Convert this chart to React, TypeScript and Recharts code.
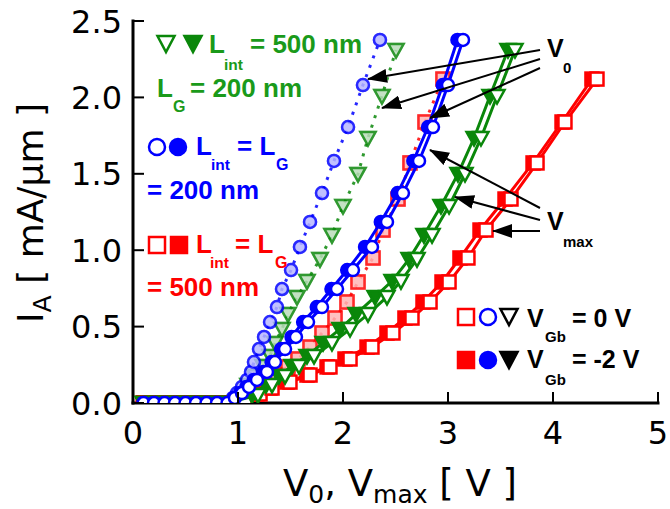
import React from "react";
import { ScatterChart, Scatter, XAxis, YAxis } from "recharts";

// off-state points along the baseline (shared by all curves)
const baseV = [0.1, 0.2, 0.3, 0.4, 0.5, 0.6, 0.7, 0.8, 0.9];
const baseI = [0, 0, 0, 0, 0, 0, 0, 0, 0];

// Lint = LG = 200 nm (blue)
const blueI = [2.376, 2.081, 1.806, 1.584, 1.374, 1.185, 1.021, 0.87, 0.746, 0.628, 0.53, 0.432, 0.353, 0.268, 0.203, 0.151, 0.105, 0.065, 0.033];
const blueV0 = [2.352, 2.19, 2.048, 1.914, 1.8, 1.686, 1.59, 1.505, 1.419, 1.371, 1.305, 1.248, 1.2, 1.152, 1.124, 1.086, 1.038, 0.99, 0.952];
const blueVmaxOpen = [3.143, 3.0, 2.857, 2.724, 2.571, 2.419, 2.276, 2.095, 1.943, 1.8, 1.667, 1.552, 1.448, 1.352, 1.276, 1.181, 1.105, 1.038, 0.971];
const blueVmaxFilled = [3.09, 2.95, 2.81, 2.67, 2.52, 2.36, 2.21, 2.04, 1.89, 1.75, 1.62, 1.51, 1.41, 1.32, 1.24, 1.15, 1.08, 1.02, 0.96];

// Lint = 500 nm, LG = 200 nm (green)
const greenI = [2.31, 2.009, 1.734, 1.499, 1.289, 1.099, 0.942, 0.798, 0.694, 0.582, 0.484, 0.393, 0.308, 0.242, 0.177, 0.118, 0.052];
const greenV0 = [2.505, 2.371, 2.238, 2.143, 2.0, 1.895, 1.781, 1.657, 1.562, 1.476, 1.419, 1.352, 1.305, 1.238, 1.162, 1.095, 1.048];
const greenVmaxOpen = [3.638, 3.467, 3.314, 3.162, 3.01, 2.848, 2.705, 2.552, 2.419, 2.238, 2.067, 1.895, 1.724, 1.581, 1.448, 1.324, 1.19];
const greenVmaxFilled = [3.571, 3.4, 3.248, 3.095, 2.933, 2.771, 2.629, 2.467, 2.305, 2.124, 1.971, 1.81, 1.657, 1.514, 1.39, 1.267, 1.133];

// Lint = LG = 500 nm (red)
const redI = [2.12, 1.839, 1.571, 1.335, 1.132, 0.949, 0.792, 0.661, 0.556, 0.458, 0.366, 0.288, 0.236, 0.183, 0.137, 0.098, 0.059, 0.026];
const redV0 = [2.952, 2.781, 2.638, 2.524, 2.381, 2.286, 2.143, 2.038, 1.924, 1.8, 1.686, 1.571, 1.476, 1.371, 1.257, 1.143, 1.067, 1.0];
const redVmaxOpen = [4.419, 4.114, 3.848, 3.6, 3.362, 3.19, 3.01, 2.829, 2.657, 2.476, 2.276, 2.067, 1.876, 1.686, 1.495, 1.324, 1.21, 1.067];
const redVmaxFilled = [4.371, 4.086, 3.81, 3.543, 3.305, 3.114, 2.943, 2.762, 2.59, 2.419, 2.229, 2.019, 1.848, 1.657, 1.467, 1.305, 1.181, 1.019];

const xTicks = [0, 1, 2, 3, 4, 5];
const yTicks = [0, 0.5, 1, 1.5, 2, 2.5];

const BLUE = "#0000ff";
const GREEN = "#0a870a";
const GREEN_TXT = "#1a9a1a";
const RED = "#ff0000";

const pts = (v: number[], i: number[]) => [
  ...baseV.map((x, k) => ({ v: x, i: baseI[k] })),
  ...v.map((x, k) => ({ v: x, i: i[k] })).reverse(),
];

function Marker(props: any) {
  const { cx, cy, kind, color, open, op } = props;
  if (cx == null || cy == null) return null;
  const st = { fill: open ? "#fff" : color, stroke: color, strokeWidth: 2.5, opacity: op };
  if (kind === "circle") return <circle cx={cx} cy={cy} r={6} {...st} />;
  if (kind === "square") return <rect x={cx - 6.5} y={cy - 6.5} width={13} height={13} {...st} />;
  return <polygon points={`${cx - 7.5},${cy - 6} ${cx + 7.5},${cy - 6} ${cx},${cy + 7.5}`} {...st} />;
}

type S = { key: string; data: any[]; color: string; kind: string; open: boolean; dotted: boolean };

const series: S[] = [
  { key: "redV0f", data: pts(redV0, redI), color: RED, kind: "square", open: false, dotted: true },
  { key: "redV0o", data: pts(redV0, redI), color: RED, kind: "square", open: true, dotted: true },
  { key: "greenV0f", data: pts(greenV0, greenI), color: GREEN, kind: "tri", open: false, dotted: true },
  { key: "greenV0o", data: pts(greenV0, greenI), color: GREEN, kind: "tri", open: true, dotted: true },
  { key: "blueV0f", data: pts(blueV0, blueI), color: BLUE, kind: "circle", open: false, dotted: true },
  { key: "blueV0o", data: pts(blueV0, blueI), color: BLUE, kind: "circle", open: true, dotted: true },
  { key: "redVf", data: pts(redVmaxFilled, redI), color: RED, kind: "square", open: false, dotted: false },
  { key: "redVo", data: pts(redVmaxOpen, redI), color: RED, kind: "square", open: true, dotted: false },
  { key: "greenVf", data: pts(greenVmaxFilled, greenI), color: GREEN, kind: "tri", open: false, dotted: false },
  { key: "greenVo", data: pts(greenVmaxOpen, greenI), color: GREEN, kind: "tri", open: true, dotted: false },
  { key: "blueVf", data: pts(blueVmaxFilled, blueI), color: BLUE, kind: "circle", open: false, dotted: false },
  { key: "blueVo", data: pts(blueVmaxOpen, blueI), color: BLUE, kind: "circle", open: true, dotted: false },
];

const TICK_FONT = "DejaVu Sans";

const BottomTick = (p: any) => (
  <g>
    <line x1={p.x} y1={p.y} x2={p.x} y2={p.y - 11} stroke="#000" strokeWidth={2} />
    <text x={p.x} y={p.y + 41} textAnchor="middle" fontSize={32} fontFamily={TICK_FONT} fill="#000">
      {p.payload.value}
    </text>
  </g>
);
const LeftTick = (p: any) => (
  <g>
    <line x1={p.x} y1={p.y} x2={p.x + 11} y2={p.y} stroke="#000" strokeWidth={2} />
    <text x={p.x - 11} y={p.y + 11.5} textAnchor="end" fontSize={32} fontFamily={TICK_FONT} fill="#000">
      {Number(p.payload.value).toFixed(1)}
    </text>
  </g>
);
const TopTick = (p: any) => <line x1={p.x} y1={p.y} x2={p.x} y2={p.y + 11} stroke="#000" strokeWidth={2} />;
const RightTick = (p: any) => <line x1={p.x} y1={p.y} x2={p.x - 11} y2={p.y} stroke="#000" strokeWidth={2} />;

const frame = { stroke: "#000", strokeWidth: 3, strokeLinecap: "square" as const };

const B = "Liberation Sans";

function Sym({ kind, x, y, color, open }: any) {
  const st = { fill: open ? "#fff" : color, stroke: color, strokeWidth: 2.5 };
  if (kind === "circle") return <circle cx={x} cy={y} r={8} {...st} />;
  if (kind === "square") return <rect x={x - 8} y={y - 8} width={16} height={16} {...st} />;
  return <polygon points={`${x - 8.5},${y - 8} ${x + 8.5},${y - 8} ${x},${y + 8}`} {...st} />;
}

function Overlay() {
  const t = (x: number, y: number, s: string, size: number, color: string) => (
    <text x={x} y={y} fontSize={size} fontWeight="bold" fontFamily={B} fill={color}>
      {s}
    </text>
  );
  return (
    <svg width={670} height={509} style={{ position: "absolute", left: 0, top: 0, pointerEvents: "none" }}>
      <defs>
        <marker id="ah" viewBox="0 0 20 14" refX="19" refY="7" markerWidth="20" markerHeight="14" markerUnits="userSpaceOnUse" orient="auto">
          <path d="M0,0 L20,7 L0,14 z" fill="#000" />
        </marker>
      </defs>
      {/* green legend */}
      <Sym kind="tri" x={166} y={44} color={GREEN} open />
      <Sym kind="tri" x={193} y={44} color={GREEN} open={false} />
      {t(209, 53, "L", 26, GREEN_TXT)}
      {t(224, 70, "int", 15.5, GREEN_TXT)}
      {t(250, 53, "= 500 nm", 26, GREEN_TXT)}
      {t(157, 97, "L", 26, GREEN_TXT)}
      {t(173, 112, "G", 16, GREEN_TXT)}
      {t(190, 97, "= 200 nm", 26, GREEN_TXT)}
      {/* blue legend */}
      <Sym kind="circle" x={157} y={147} color={BLUE} open />
      <Sym kind="circle" x={178} y={147} color={BLUE} open={false} />
      {t(196, 155, "L", 26, BLUE)}
      {t(211, 170, "int", 15.5, BLUE)}
      {t(237, 155, "= L", 26, BLUE)}
      {t(276, 170, "G", 16, BLUE)}
      {t(147, 199, "= 200 nm", 26, BLUE)}
      {/* red legend */}
      <Sym kind="square" x={157} y={245} color={RED} open />
      <Sym kind="square" x={179} y={245} color={RED} open={false} />
      {t(196, 253, "L", 26, RED)}
      {t(210, 268, "int", 15.5, RED)}
      {t(235, 253, "= L", 26, RED)}
      {t(275, 268, "G", 16, RED)}
      {t(147, 296, "= 500 nm", 26, RED)}
      {/* V0 / Vmax annotations */}
      {t(547, 57, "V", 25, "#000")}
      {t(563, 73, "0", 15, "#000")}
      {t(547, 230, "V", 25, "#000")}
      {t(563, 247, "max", 15, "#000")}
      <line x1={540} y1={50} x2={368} y2={79} stroke="#000" strokeWidth={2} markerEnd="url(#ah)" />
      <line x1={540} y1={59} x2={382} y2={108} stroke="#000" strokeWidth={2} markerEnd="url(#ah)" />
      <line x1={540} y1={68} x2={430} y2={118} stroke="#000" strokeWidth={2} markerEnd="url(#ah)" />
      <line x1={540} y1={208} x2={430} y2={150} stroke="#000" strokeWidth={2} markerEnd="url(#ah)" />
      <line x1={540} y1={220} x2={455} y2={197} stroke="#000" strokeWidth={2} markerEnd="url(#ah)" />
      <line x1={540} y1={231} x2={493} y2={231} stroke="#000" strokeWidth={2} markerEnd="url(#ah)" />
      {/* VGb legend */}
      <Sym kind="square" x={466} y={317} color={RED} open />
      <Sym kind="circle" x={488} y={317} color={BLUE} open />
      <Sym kind="tri" x={509} y={317} color="#000" open />
      {t(527, 327, "V", 25, "#000")}
      {t(545, 342, "Gb", 15, "#000")}
      {t(572, 327, "= 0 V", 25, "#000")}
      <Sym kind="square" x={466} y={360} color={RED} open={false} />
      <Sym kind="circle" x={488} y={360} color={BLUE} open={false} />
      <Sym kind="tri" x={509} y={360} color="#000" open={false} />
      {t(527, 368, "V", 25, "#000")}
      {t(545, 385, "Gb", 15, "#000")}
      {t(572, 368, "= -2 V", 25, "#000")}
      {/* axis titles */}
      <text x={283} y={496} fontSize={37} fontFamily={TICK_FONT} fill="#000">
        V<tspan fontSize={25} dy={7}>0</tspan>
        <tspan dy={-7}>, V</tspan>
        <tspan fontSize={25} dy={7}>max</tspan>
        <tspan dy={-7}> [ V ]</tspan>
      </text>
      <text x={43} y={323} transform="rotate(-90 43 323)" fontSize={36} fontFamily={TICK_FONT} fill="#000">
        I<tspan fontSize={25} dy={8}>A</tspan>
        <tspan dy={-8}> [ mA/μm ]</tspan>
      </text>
    </svg>
  );
}

export default function App() {
  return (
    <div style={{ position: "absolute", left: 0, top: 0, width: 670, height: 509, background: "#fff" }}>
      <ScatterChart width={670} height={509} margin={{ top: 21, right: 12, left: 0, bottom: 0 }}>
        <XAxis dataKey="v" type="number" domain={[0, 5]} allowDataOverflow ticks={xTicks} interval={0} height={106} tickSize={0} tickMargin={0} tickLine={false} axisLine={frame} tick={BottomTick} />
        <XAxis xAxisId="top" orientation="top" type="number" domain={[0, 5]} ticks={xTicks} interval={0} height={0} tickSize={0} tickMargin={0} tickLine={false} axisLine={frame} tick={TopTick} />
        <YAxis dataKey="i" type="number" domain={[0, 2.5]} allowDataOverflow ticks={yTicks} interval={0} width={133} tickSize={0} tickMargin={0} tickLine={false} axisLine={frame} tick={LeftTick} />
        <YAxis yAxisId="right" orientation="right" type="number" domain={[0, 2.5]} ticks={yTicks} interval={0} width={0} tickSize={0} tickMargin={0} tickLine={false} axisLine={frame} tick={RightTick} />
        {series.map((s) => (
          <Scatter
            key={s.key}
            data={s.data}
            isAnimationActive={false}
            line={
              s.dotted
                ? s.open
                  ? false
                  : { stroke: s.color, strokeWidth: 3, strokeDasharray: "3 7", strokeOpacity: 0.85 }
                : { stroke: s.color, strokeWidth: 3 }
            }
            shape={(p: any) => (
              <Marker {...p} kind={s.kind} color={s.color} open={s.open} op={s.dotted ? 0.6 : 1} />
            )}
          />
        ))}
      </ScatterChart>
      <Overlay />
    </div>
  );
}
